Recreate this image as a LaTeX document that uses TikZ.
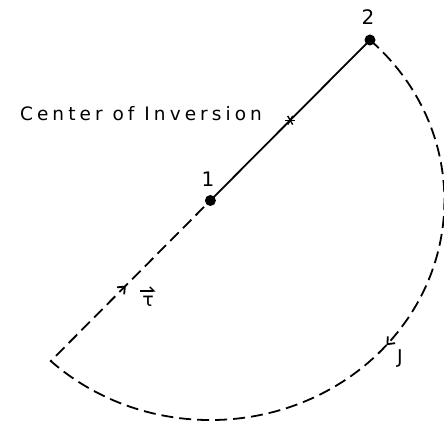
\documentclass[tikz,border=0pt]{standalone}
\usepackage{fontspec}
\setmainfont{DejaVu Sans}
\newfontfamily\lblfont{DejaVu Sans}[LetterSpace=22]
\usetikzlibrary{arrows.meta,decorations.markings,calc}
\begin{document}
\begin{tikzpicture}[x=1pt,y=1pt,
  line width=1.8pt,
  dot/.style={circle,fill=black,inner sep=0pt,minimum size=11pt},
  lbl/.style={font=\fontsize{19}{22}\selectfont},
  dsh/.style={dash pattern=on 12pt off 6pt},
  barbtip/.tip={Straight Barb[length=6pt,width=10pt,line width=1.8pt]}]
\useasboundingbox (0,0) rectangle (444,420);
\node[dot] (p1) at (210.4,219.5) {};
\node[dot] (p2) at (370,380) {};
\coordinate (ci) at ($(p1)!0.5!(p2)$);
% solid segment
\draw (p2.center) -- (p1.center);
% dashed arc and back to point 1
\draw[dsh] (p2.center) arc[start angle=47,end angle=-133,x radius=234,y radius=219.5] coordinate (c) -- (p1.center);
% arrows
\path[decoration={markings,mark=at position 0.48 with {\arrow{barbtip}}},postaction=decorate]
  (p2.center) arc[start angle=47,end angle=-133,x radius=234,y radius=219.5];
\path[decoration={markings,mark=at position 0.47 with {\arrow{barbtip}}},postaction=decorate]
  (c) -- (p1.center);
% center of inversion mark
\draw[line width=1.4pt] ($(ci)+(-5,0)$) -- ($(ci)+(5,0)$);
\draw[line width=1.4pt] ($(ci)+(60:5)$) -- ($(ci)+(240:5)$);
\draw[line width=1.4pt] ($(ci)+(120:5)$) -- ($(ci)+(300:5)$);
% labels
\node[font=\fontsize{20}{22}\selectfont] (l1) at (208,241) {1};
\node[font=\fontsize{20}{22}\selectfont] (l2) at (368,403) {2};
\node[font=\lblfont\fontsize{18.5}{22}\selectfont] (lci) at (141,306) {Center of Inversion};
\node[lbl,inner sep=0pt] (ltau) at (148,119) {τ};
\draw[line width=1.5pt,-{Straight Barb[left,length=4pt,width=8pt]}] ($(ltau.north west)+(-1,4)$) -- ($(ltau.north east)+(1,4)$);
\node[lbl] (lj) at (400,62) {J};
\end{tikzpicture}
\end{document}
